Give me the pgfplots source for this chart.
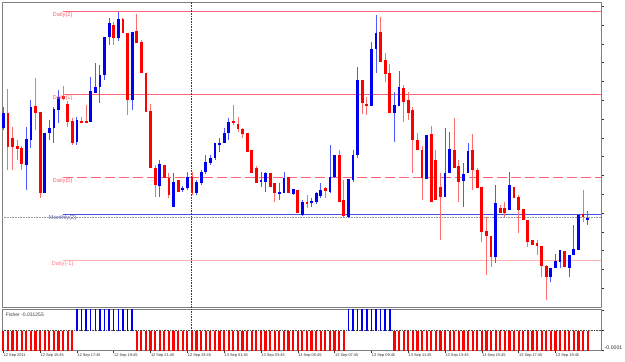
\documentclass[border=0pt]{standalone}
\usepackage{pgfplots}
\pgfplotsset{compat=1.18}
\usepackage{pgfplotstable}
\usepackage{fontspec}
\setmainfont{Liberation Sans}
\definecolor{bullbody}{RGB}{0,0,240}
\definecolor{bearbody}{RGB}{255,0,0}
\definecolor{bullwick}{RGB}{80,90,255}
\definecolor{bearwick}{RGB}{255,110,110}
\definecolor{dailyc}{RGB}{255,100,120}
\definecolor{dailym}{RGB}{255,178,178}
\definecolor{monthc}{RGB}{70,80,225}
\definecolor{monthtxt}{RGB}{100,100,170}
\definecolor{framec}{RGB}{128,128,128}

% candles: bar index, body top, body bottom, high, low (chart pixel rows, top = 0)
\pgfplotstableread{
i bt bb wt wb
0 113 128 107 130
5 139 165 127 190
6 107 140 100 148
9 133 193 133 193
10 128 133 120 140
11 109 128 107 143
12 97 110 90 123
16 120 142 117 145
19 91 122 77 122
20 87 93 63 93
21 75 87 65 103
22 37 75 37 80
23 23 37 18 45
25 19 38 12 41
28 32 100 32 110
34 164 186 160 197
37 182 207 173 207
39 188 190 186 192
40 177 188 172 190
42 182 193 180 195
43 172 183 170 185
44 162 172 155 174
45 158 163 155 165
46 143 158 143 160
47 143 145 138 152
48 133 143 128 143
49 122 133 118 140
56 180 182 172 187
57 173 182 172 192
60 192 194 183 200
61 178 193 172 193
63 189 194 189 195
65 202 215 200 216
67 201 203 198 207
68 193 202 192 204
69 190 196 183 198
71 177 192 145 193
72 155 177 155 178
75 179 217 179 218
76 155 180 150 182
77 80 155 67 158
80 49 106 42 106
81 33 49 15 73
85 105 113 92 142
86 87 106 71 106
92 135 179 135 179
96 173 197 128 197
97 149 173 132 173
100 174 181 163 207
101 151 173 143 173
107 203 257 185 263
110 185 210 172 210
119 268 277 268 282
120 261 268 254 268
121 250 262 250 268
123 255 268 255 277
124 249 255 225 255
125 215 250 215 250
127 218 220 211 225
}\bull

\pgfplotstableread{
i bt bb wt wb
1 113 147 89 170
2 138 147 127 170
3 146 149 140 160
4 148 164 146 170
7 106 113 78 130
8 112 193 112 198
13 96 99 86 100
14 104 122 101 127
15 121 143 118 145
17 121 123 117 123
18 121 123 105 123
24 25 38 22 45
26 19 33 18 33
27 33 100 33 115
29 31 43 14 43
30 42 73 40 73
31 73 112 73 112
32 111 168 104 168
33 168 185 165 197
35 165 178 165 178
36 178 195 173 198
38 180 192 180 192
41 177 193 172 195
50 121 123 105 125
51 124 129 117 132
52 129 134 128 138
53 133 152 133 152
54 150 173 150 173
55 168 183 166 183
58 173 187 173 187
59 183 193 183 202
62 177 193 177 193
64 190 213 190 213
66 202 204 195 208
70 188 191 187 198
73 155 202 150 202
74 200 216 180 218
78 80 103 80 114
79 104 106 97 115
82 32 62 17 62
83 60 74 53 82
84 73 113 64 113
87 88 102 85 122
88 100 113 92 120
89 110 140 107 173
90 140 150 133 150
91 150 178 146 200
93 134 202 126 202
94 160 200 150 200
95 187 197 173 240
98 150 168 118 168
99 166 182 160 202
102 150 170 134 190
103 170 188 168 188
104 187 232 187 242
105 231 236 217 275
106 236 257 236 267
108 208 213 205 213
109 208 213 202 217
111 187 198 187 198
112 197 210 195 233
113 209 220 209 220
114 220 242 220 247
115 240 245 240 245
116 243 246 240 255
117 246 266 246 277
118 266 277 265 300
122 251 267 251 267
126 214 217 190 222
}\bear

\begin{document}
\begin{tikzpicture}
\fill[white] (0pt,0pt) rectangle (625pt,-362pt);
% ---------------- main price window ----------------
\begin{axis}[
  at={(2.2pt,-2pt)}, anchor=north west,
  width=598.8pt, height=305pt, scale only axis,
  xmin=-0.24, xmax=129.9, ymin=2, ymax=307, y dir=reverse,
  xtick=\empty,
  ytick={6.2,25,...,290}, yticklabels={},
  ytick pos=right, tick align=outside, major tick length=2.5pt,
  tick style={black!80, line width=0.5pt},
  axis line style={framec, line width=1pt},
  clip=true,
]
% horizontal level lines
\addplot[gray!80, densely dotted, line width=0.6pt] coordinates {(-1,217.3) (131,217.3)};
\addplot[dailyc, line width=0.8pt] coordinates {(13,11) (131,11)};
\addplot[dailyc, line width=0.8pt] coordinates {(13,94.3) (131,94.3)};
\addplot[dailyc, line width=0.8pt, dash pattern=on 10pt off 4pt] coordinates {(13,177.3) (131,177.3)};
\addplot[monthc, line width=0.8pt] coordinates {(13,214.3) (131,214.3)};
\addplot[dailym, line width=1.4pt] coordinates {(13,260.7) (131,260.7)};
% vertical dotted separator
\addplot[black!75, densely dotted, line width=0.6pt] coordinates {(40.96,0) (40.96,310)};
% wicks
\addplot[draw=none, mark=none, error bars/.cd, y dir=both, y explicit, error mark=none,
  error bar style={draw=bullwick, line width=0.9pt, solid}]
  table[x=i, y expr={(\thisrow{wt}+\thisrow{wb})/2}, y error expr={(\thisrow{wb}-\thisrow{wt})/2}] {\bull};
\addplot[draw=none, mark=none, error bars/.cd, y dir=both, y explicit, error mark=none,
  error bar style={draw=bearwick, line width=0.9pt, solid}]
  table[x=i, y expr={(\thisrow{wt}+\thisrow{wb})/2}, y error expr={(\thisrow{wb}-\thisrow{wt})/2}] {\bear};
% bodies
\addplot[draw=none, mark=none, error bars/.cd, y dir=both, y explicit, error mark=none,
  error bar style={draw=bullbody, line width=2.8pt, solid}]
  table[x=i, y expr={(\thisrow{bt}+\thisrow{bb})/2}, y error expr={(\thisrow{bb}-\thisrow{bt})/2}] {\bull};
\addplot[draw=none, mark=none, error bars/.cd, y dir=both, y explicit, error mark=none,
  error bar style={draw=bearbody, line width=2.8pt, solid}]
  table[x=i, y expr={(\thisrow{bt}+\thisrow{bb})/2}, y error expr={(\thisrow{bb}-\thisrow{bt})/2}] {\bear};
% labels of levels
\node[anchor=north, inner sep=0.6pt, text=dailyc, font=\fontsize{5.8}{6}\selectfont] at (axis cs:12.9,11) {Daily(2)};
\node[anchor=north, inner sep=0.6pt, text=dailyc, font=\fontsize{5.8}{6}\selectfont] at (axis cs:12.9,94.3) {Daily(1)};
\node[anchor=north, inner sep=0.6pt, text=dailyc, font=\fontsize{5.8}{6}\selectfont] at (axis cs:12.9,177.3) {Daily(0)};
\node[anchor=north, inner sep=0.6pt, text=monthtxt, font=\fontsize{5.8}{6}\selectfont] at (axis cs:12.9,214.3) {Monthly(2)};
\node[anchor=north, inner sep=0.6pt, text=dailyc!85, font=\fontsize{5.8}{6}\selectfont] at (axis cs:12.9,260.7) {Daily(-1)};
\end{axis}
% ---------------- Fisher sub-window ----------------
\begin{axis}[
  at={(2.2pt,-309.5pt)}, anchor=north west,
  width=598.8pt, height=41pt, scale only axis,
  xmin=-0.24, xmax=129.9, ymin=-0.0001, ymax=0.000105,
  scaled y ticks=false, scaled x ticks=false,
  xtick={0,8,...,120},
  xticklabels={12 Sep 2011, 12 Sep 15:45, 12 Sep 17:45, 12 Sep 19:45, 12 Sep 21:45, 12 Sep 23:45, 13 Sep 01:45, 13 Sep 03:45, 13 Sep 05:45, 13 Sep 07:45, 13 Sep 09:45, 13 Sep 11:45, 13 Sep 13:45, 13 Sep 15:45, 13 Sep 17:45, 13 Sep 19:45},
  xticklabel style={anchor=north west, inner sep=0pt, xshift=0.3pt, yshift=-1pt, font=\fontsize{3.9}{4}\selectfont, text=black!80},
  xtick pos=bottom,
  ytick={-0.0001,0,0.0001}, yticklabels={-0.0001,,},
  yticklabel style={anchor=west, inner sep=0pt, xshift=1pt, yshift=3pt, font=\fontsize{5.2}{6}\selectfont, text=black!80},
  ytick pos=right, tick align=outside, major tick length=2.5pt,
  tick style={black!80, line width=0.5pt},
  axis line style={framec, line width=1pt},
  clip=true,
]
\addplot[black!70, densely dotted, line width=0.6pt] coordinates {(-1,0) (131,0)};
\addplot[black!75, densely dotted, line width=0.6pt] coordinates {(40.96,-0.0002) (40.96,0.0002)};
\addplot[ycomb, bearbody, line width=2.2pt, mark=none] coordinates {
(0,-0.0002) (1,-0.0002) (2,-0.0002) (3,-0.0002) (4,-0.0002) (5,-0.0002) (6,-0.0002) (7,-0.0002)
(8,-0.0002) (9,-0.0002) (10,-0.0002) (11,-0.0002) (12,-0.0002) (13,-0.0002) (14,-0.0002) (15,-0.0002)
(29,-0.0002) (30,-0.0002) (31,-0.0002) (32,-0.0002) (33,-0.0002) (34,-0.0002) (35,-0.0002) (36,-0.0002)
(37,-0.0002) (38,-0.0002) (39,-0.0002) (40,-0.0002) (41,-0.0002) (42,-0.0002) (43,-0.0002) (44,-0.0002)
(45,-0.0002) (46,-0.0002) (47,-0.0002) (48,-0.0002) (49,-0.0002) (50,-0.0002) (51,-0.0002) (52,-0.0002)
(53,-0.0002) (54,-0.0002) (55,-0.0002) (56,-0.0002) (57,-0.0002) (58,-0.0002) (59,-0.0002) (60,-0.0002)
(61,-0.0002) (62,-0.0002) (63,-0.0002) (64,-0.0002) (65,-0.0002) (66,-0.0002) (67,-0.0002) (68,-0.0002)
(69,-0.0002) (70,-0.0002) (71,-0.0002) (72,-0.0002) (73,-0.0002) (74,-0.0002)
(85,-0.0002) (86,-0.0002) (87,-0.0002) (88,-0.0002) (89,-0.0002) (90,-0.0002) (91,-0.0002) (92,-0.0002)
(93,-0.0002) (94,-0.0002) (95,-0.0002) (96,-0.0002) (97,-0.0002) (98,-0.0002) (99,-0.0002) (100,-0.0002)
(101,-0.0002) (102,-0.0002) (103,-0.0002) (104,-0.0002) (105,-0.0002) (106,-0.0002) (107,-0.0002) (108,-0.0002)
(109,-0.0002) (110,-0.0002) (111,-0.0002) (112,-0.0002) (113,-0.0002) (114,-0.0002) (115,-0.0002) (116,-0.0002)
(117,-0.0002) (118,-0.0002) (119,-0.0002) (120,-0.0002) (121,-0.0002) (122,-0.0002) (123,-0.0002) (124,-0.0002)
(125,-0.0002) (126,-0.0002) (127,-0.0002)
};
\addplot[ycomb, bullbody, line width=1.5pt, mark=none] coordinates {
(16,0.0002) (17,0.0002) (18,0.0002) (19,0.0002) (20,0.0002) (21,0.0002) (22,0.0002) (23,0.0002)
(24,0.0002) (25,0.0002) (26,0.0002) (27,0.0002) (28,0.0002)
(75,0.0002) (76,0.0002) (77,0.0002) (78,0.0002) (79,0.0002) (80,0.0002) (81,0.0002) (82,0.0002)
(83,0.0002) (84,0.0002)
};
\node[anchor=north west, inner sep=0pt, font=\fontsize{5}{6}\selectfont, text=black!75] at (rel axis cs:0.006,0.93) {Fisher -0.031255};
\end{axis}
\pgfresetboundingbox
\path[use as bounding box] (0pt,0pt) rectangle (625pt,-362pt);
\end{tikzpicture}
\end{document}
